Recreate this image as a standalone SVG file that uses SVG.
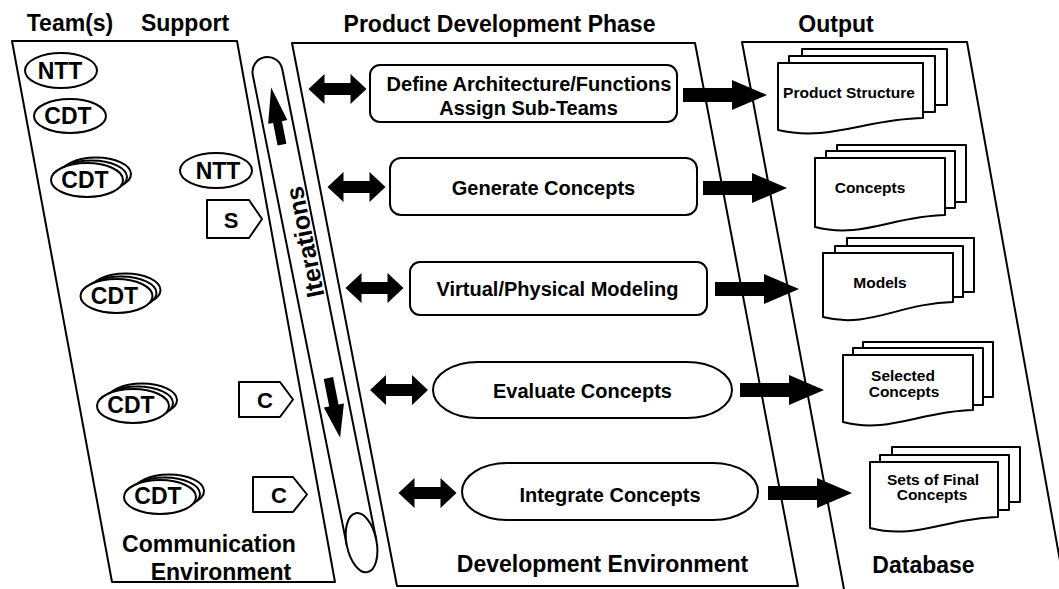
<svg xmlns="http://www.w3.org/2000/svg" xmlns:xlink="http://www.w3.org/1999/xlink" width="1059" height="589" viewBox="0 0 1059 589">
<defs>
<style>
.ln{fill:none;stroke:#000;stroke-width:2;stroke-linejoin:round}
.sh{fill:#fff;stroke:#000;stroke-width:2;stroke-linejoin:round}
.blk{fill:#000;stroke:none}
text{font-family:"Liberation Sans",Arial,Helvetica,sans-serif;font-weight:bold;fill:#000}
.h{font-size:23px;text-anchor:middle}
.b{font-size:20px;text-anchor:middle}
.d{font-size:15.5px;text-anchor:middle}
.n{font-size:23px;text-anchor:middle}
.s{font-size:22px;text-anchor:middle}
</style>
<path id="dbl" d="M-29,0 L-13,-15 L-13,-6 L13,-6 L13,-15 L29,0 L13,15 L13,6 L-13,6 L-13,15 Z" fill="#000"/>
<path id="fat" d="M0,-7 H49 V-15 L84,0 L49,15 V7 H0 Z" fill="#000"/>
<g id="stack" fill="#fff" stroke="#000" stroke-width="2">
<ellipse cx="9" cy="-6" rx="35" ry="16.5"/>
<ellipse cx="4.5" cy="-3" rx="35.5" ry="16.5"/>
<ellipse cx="0" cy="0" rx="36" ry="17"/>
</g>
</defs>
<rect x="0" y="0" width="1059" height="589" fill="#fff"/>

<g id="headings">
<text class="h" x="70" y="31">Team(s)</text>
<text class="h" x="185" y="31">Support</text>
<text class="h" x="499.5" y="32">Product Development Phase</text>
<text class="h" x="836" y="32">Output</text>
</g>

<g id="communication-environment">
<polygon class="sh" points="12,41 237,41 335,582 112,582"/>
<text class="h" x="209" y="552">Communication</text>
<text class="h" x="221" y="580">Environment</text>
</g>

<g id="development-environment">
<polygon class="sh" points="292,43 695,43 798,586 397,586"/>
<text class="h" x="602.5" y="572">Development Environment</text>
</g>

<g id="database">
<path class="sh" d="M846,600 L742,42 L967,42 L1067,600"/>
<text class="h" x="923.5" y="573">Database</text>
</g>

<g id="iterations" transform="translate(267.5,72) rotate(-11.3)">
<path class="ln" d="M-15,480 V0 A15,15 0 0 1 15,0 V480"/>
<ellipse class="sh" cx="0" cy="480" rx="15" ry="30"/>
<path class="blk" d="M0.5,16 L10,51 L4.5,51 L4.5,74 L-4.5,74 L-4.5,51 L-9.5,51 Z"/>
<path class="blk" d="M-0.5,373 L-10.5,340 L-5,340 L-5,312 L4.5,312 L4.5,340 L10,340 Z"/>
<text transform="translate(12,174) rotate(-90)" font-size="25" text-anchor="middle">Iterations</text>
</g>

<g id="ntt1"><ellipse class="sh" cx="61" cy="70.5" rx="36" ry="17.5"/><text class="n" x="60" y="79">NTT</text></g>
<g id="cdt1"><ellipse class="sh" cx="70" cy="116" rx="36" ry="17"/><text class="n" x="68" y="124">CDT</text></g>
<g id="cdt2"><use xlink:href="#stack" x="87" y="180"/><text class="n" x="85" y="188">CDT</text></g>
<g id="ntt2"><ellipse class="sh" cx="216" cy="170.5" rx="36" ry="17.5"/><text class="n" x="218" y="179">NTT</text></g>
<g id="s1"><polygon class="sh" points="207,200 249,200 262,219 249,238 207,238"/><text class="s" x="231" y="228">S</text></g>
<g id="cdt3"><use xlink:href="#stack" x="116.5" y="296"/><text class="n" x="114.5" y="304">CDT</text></g>
<g id="cdt4"><use xlink:href="#stack" x="133" y="406"/><text class="n" x="131" y="413">CDT</text></g>
<g id="c1"><polygon class="sh" points="239,382 280,382 293,399.5 280,417 239,417"/><text class="s" x="265" y="408">C</text></g>
<g id="cdt5"><use xlink:href="#stack" x="160" y="497"/><text class="n" x="158" y="504">CDT</text></g>
<g id="c2"><polygon class="sh" points="253,477 293,477 307,494.5 293,512 253,512"/><text class="s" x="279" y="503">C</text></g>

<g id="define">
<rect class="sh" x="370" y="65" width="307" height="57" rx="10"/>
<text class="b" x="529" y="91">Define Architecture/Functions</text>
<text class="b" x="528.5" y="115">Assign Sub-Teams</text>
</g>
<g id="generate">
<rect class="sh" x="390" y="158" width="307" height="57" rx="11"/>
<text class="b" x="543.5" y="195">Generate Concepts</text>
</g>
<g id="modeling">
<rect class="sh" x="410" y="262" width="297" height="53" rx="10"/>
<text class="b" x="557.5" y="296">Virtual/Physical Modeling</text>
</g>
<g id="evaluate">
<rect class="sh" x="433" y="362" width="299" height="56" rx="45" ry="28"/>
<text class="b" x="582.5" y="398">Evaluate Concepts</text>
</g>
<g id="integrate">
<rect class="sh" x="462" y="463" width="296" height="57" rx="45" ry="28.5"/>
<text class="b" x="610" y="502">Integrate Concepts</text>
</g>

<g id="out-product-structure">
<rect class="sh" x="802" y="49" width="145" height="56"/>
<rect class="sh" x="789" y="56" width="146" height="56"/>
<path class="sh" d="M778,63 H923 V118 C865,119 829,142 778,130 Z"/>
<text class="d" x="849" y="98" font-size="15">Product Structure</text>
</g>
<g id="out-concepts">
<rect class="sh" x="837" y="145" width="129" height="57"/>
<rect class="sh" x="826" y="151" width="129" height="57"/>
<path class="sh" d="M815,158 H945 V215 C893,216 861,239 815,227 Z"/>
<text class="d" x="870" y="193">Concepts</text>
</g>
<g id="out-models">
<rect class="sh" x="847" y="238" width="127" height="54"/>
<rect class="sh" x="835" y="246" width="128" height="51"/>
<path class="sh" d="M823,253 H953 V302 C901,303 868,329 823,317 Z"/>
<text class="d" x="880" y="288">Models</text>
</g>
<g id="out-selected">
<rect class="sh" x="863" y="342" width="130" height="55"/>
<rect class="sh" x="853" y="348" width="130" height="57"/>
<path class="sh" d="M843,355 H973 V410 C921,411 888,434 843,422 Z"/>
<text class="d" x="903" y="381">Selected</text>
<text class="d" x="904" y="397">Concepts</text>
</g>
<g id="out-final">
<rect class="sh" x="892" y="447" width="128" height="55"/>
<rect class="sh" x="880" y="455" width="129" height="55"/>
<path class="sh" d="M870,462 H998 V517 C947,518 915,540 870,528 Z"/>
<text class="d" x="933" y="485">Sets of Final</text>
<text class="d" x="932" y="500">Concepts</text>
</g>

<g id="connectors">
<use xlink:href="#dbl" x="337.5" y="89"/>
<use xlink:href="#dbl" x="356.5" y="187"/>
<use xlink:href="#dbl" x="374.5" y="288"/>
<use xlink:href="#dbl" x="399" y="390"/>
<use xlink:href="#dbl" x="427.5" y="493"/>
<use xlink:href="#fat" x="683" y="95"/>
<use xlink:href="#fat" x="703" y="188"/>
<use xlink:href="#fat" x="715" y="289"/>
<use xlink:href="#fat" x="740" y="390"/>
<use xlink:href="#fat" x="768" y="493"/>
</g>
</svg>
